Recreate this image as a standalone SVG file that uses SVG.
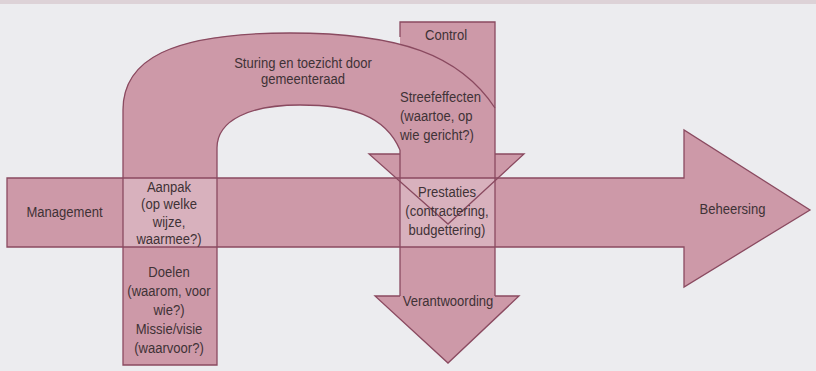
<svg xmlns="http://www.w3.org/2000/svg" width="816" height="371" viewBox="0 0 816 371">
  <style>
    .fill{fill:#cd99a8;stroke:none}
    .lite{fill:#d8b1bd;stroke:none}
    .ln{fill:none;stroke:#8a4a60;stroke-width:1.3;stroke-linejoin:miter}
    text{font-family:"Liberation Sans",Arial,sans-serif;font-size:14.5px;fill:#3f3236;transform:scale(0.9,1)}
    .m{text-anchor:middle}
    .s{text-anchor:start}
  </style>
  <rect x="0" y="0" width="816" height="371" fill="#ececef"/>
  <rect x="0" y="0" width="816" height="4" fill="#ddd2d7"/>

  <g id="shapes">
    <g id="control-verantwoording">
      <path class="fill" d="M400,22 H495 V154 H524 L495,181 V296 H519 L448,363 L375,296 H400 V181 L369,154 H400 Z"/>
    </g>
    <g id="sturing-toezicht">
      <path class="fill" d="M123,178 V110 C123,60 170,33 290,33 C400,33 460,55 495,108 V154 H400 V150 C385,115 350,105 300,105 C250,105 217,120 217,148 V178 Z"/>
    </g>
    <g id="management-beheersing">
      <path class="fill" d="M7,178 H684 V130 L810,210 L684,287 V247 H7 Z"/>
    </g>
    <g id="aanpak-doelen">
      <rect class="fill" x="123" y="178" width="94" height="187"/>
      <rect class="lite" x="123" y="178" width="94" height="69"/>
    </g>
    <g id="prestaties">
      <rect class="lite" x="400" y="178" width="95" height="69"/>
    </g>
  </g>

  <g id="connectors">
    <path class="ln" d="M7,178 H684 V130 L810,210 L684,287 V247 H7 Z"/>
    <path class="ln" d="M123,178 V110 C123,60 170,33 290,33 C400,33 460,55 495,108"/>
    <path class="ln" d="M217,178 V148 C217,120 250,105 300,105 C350,105 385,115 400,150"/>
    <path class="ln" d="M123,178 V365 H217 V178"/>
    <path class="ln" d="M400,37 V22 H495 V296"/>
    <path class="ln" d="M400,150 V296"/>
    <path class="ln" d="M400,154 H369 L448,224 L524,154 H495"/>
    <path class="ln" d="M400,296 H375 L448,363 L519,296 H495"/>
  </g>

  <g id="labels">
    <g id="label-management"><text class="m" x="71.7" y="217">Management</text></g>
    <g id="label-beheersing"><text class="m" x="813.9" y="214">Beheersing</text></g>
    <g id="label-sturing">
      <text class="m" x="336.7" y="68">Sturing en toezicht door</text>
      <text class="m" x="336.7" y="84">gemeenteraad</text>
    </g>
    <g id="label-control"><text class="m" x="495.6" y="40">Control</text></g>
    <g id="label-streefeffecten">
      <text class="s" x="444.4" y="102">Streefeffecten</text>
      <text class="s" x="444.4" y="121">(waartoe, op</text>
      <text class="s" x="444.4" y="140">wie gericht?)</text>
    </g>
    <g id="label-aanpak">
      <text class="m" x="187.8" y="192">Aanpak</text>
      <text class="m" x="187.8" y="209.5">(op welke</text>
      <text class="m" x="187.8" y="227">wijze,</text>
      <text class="m" x="187.8" y="244.5">waarmee?)</text>
    </g>
    <g id="label-doelen">
      <text class="m" x="187.8" y="277">Doelen</text>
      <text class="m" x="187.8" y="296">(waarom, voor</text>
      <text class="m" x="187.8" y="315">wie?)</text>
      <text class="m" x="187.8" y="334">Missie/visie</text>
      <text class="m" x="187.8" y="353">(waarvoor?)</text>
    </g>
    <g id="label-prestaties">
      <text class="m" x="496.7" y="197">Prestaties</text>
      <text class="m" x="496.7" y="216">(contractering,</text>
      <text class="m" x="496.7" y="235">budgettering)</text>
    </g>
    <g id="label-verantwoording"><text class="m" x="497.8" y="306">Verantwoording</text></g>
  </g>
</svg>
